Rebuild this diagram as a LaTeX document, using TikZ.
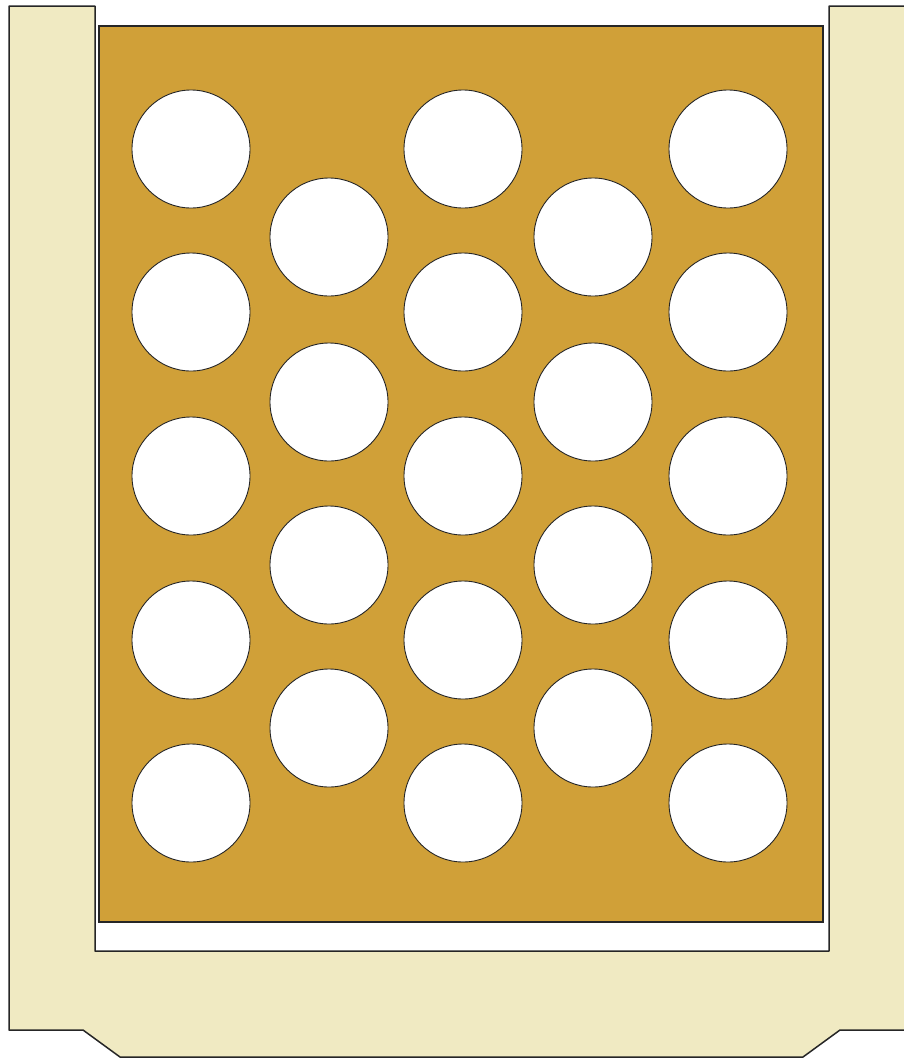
\documentclass[tikz,border=0pt]{standalone}
\definecolor{cream}{HTML}{F0EAC2}
\definecolor{gold}{HTML}{D0A038}
\begin{document}
\begin{tikzpicture}[x=1pt,y=-1pt,
  framestyle/.style={fill=cream,draw=black!85,line width=1.5pt,line join=round},
  platestyle/.style={fill=gold,draw=black!85,line width=1.5pt},
  hole/.style={circle,fill=white,draw=black!85,line width=0.9pt,minimum size=118pt,inner sep=0pt}]
\useasboundingbox (0,0) rectangle (904,1061);
\draw[framestyle] (9,6) -- (95,6) -- (95,951) -- (829,951) -- (829,6) -- (906,6) -- (906,1030) -- (840,1030) -- (803,1057) -- (120,1057) -- (83,1030) -- (9,1030) -- cycle;
\draw[platestyle] (99,26) rectangle (823,922);
\foreach \c/\x in {1/191,3/463,5/728}{
  \foreach \r/\y in {1/149,2/312,3/476,4/640,5/803}{
    \node[hole] (h\c\r) at (\x,\y) {};
  }
}
\foreach \c/\x in {2/329,4/593}{
  \foreach \r/\y in {1/237,2/402,3/565,4/728}{
    \node[hole] (h\c\r) at (\x,\y) {};
  }
}
\end{tikzpicture}
\end{document}
